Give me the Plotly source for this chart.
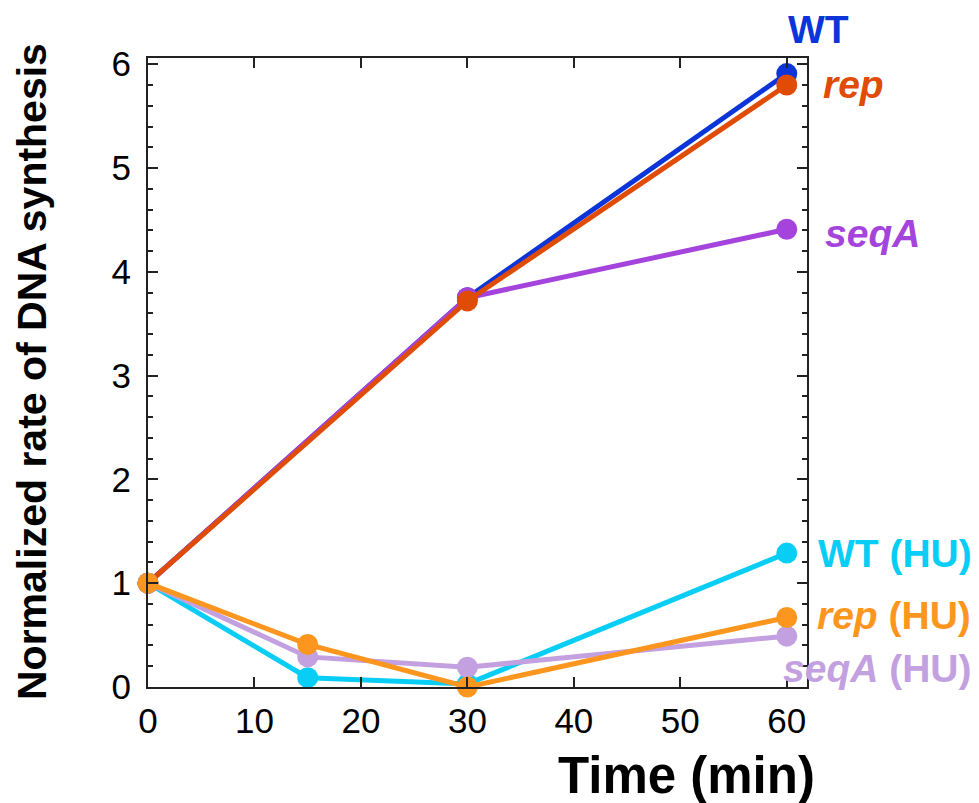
import plotly.graph_objects as go

time_full = [0, 30, 60]
time_hu = [0, 15, 30, 60]

wt = [1.0, 3.75, 5.91]
seqa = [1.0, 3.75, 4.41]
rep = [1.0, 3.72, 5.80]

seqa_hu = [1.0, 0.29, 0.19, 0.49]
wt_hu = [1.0, 0.09, 0.03, 1.29]
rep_hu = [1.0, 0.41, 0.0, 0.67]

series = [
    ("WT", time_full, wt, "#0b35d9"),
    ("seqA", time_full, seqa, "#a444dc"),
    ("rep", time_full, rep, "#e04b05"),
    ("WT (HU)", time_hu, wt_hu, "#08cdf5"),
    ("seqA (HU)", time_hu, seqa_hu, "#c3a0e0"),
    ("rep (HU)", time_hu, rep_hu, "#fd961e"),
]

W, H = 979, 803
L, R, T, B = 148, 172, 58, 116
PW, PH = W - L - R, H - T - B


def px(xp):
    return (xp - L) / PW


def py(yp):
    return (H - B - yp) / PH


fig = go.Figure()
for name, xs, ys, col in series:
    fig.add_trace(go.Scatter(
        x=xs, y=ys, mode="lines+markers", name=name,
        line=dict(color=col, width=5),
        marker=dict(color=col, size=21),
        cliponaxis=False, showlegend=False, hoverinfo="skip",
    ))

FONT = "Liberation Sans, Arial, Helvetica, sans-serif"

# series labels (positions in page pixels)
labels = [
    ("<b>WT</b>", 818, 29, "center", "#0b35d9"),
    ("<b><i>rep</i></b>", 821, 85, "left", "#e04b05"),
    ("<b><i>seqA</i></b>", 823, 233, "left", "#a444dc"),
    ("<b>WT (HU)</b>", 816, 553, "left", "#08cdf5"),
    ("<b><i>rep</i> (HU)</b>", 815, 615, "left", "#fd961e"),
    ("<b><i>seqA</i> (HU)</b>", 781, 668, "left", "#c3a0e0"),
]
for txt, xp, yp, xa, col in labels:
    fig.add_annotation(x=px(xp), y=py(yp), xref="paper", yref="paper", text=txt, showarrow=False,
                       xanchor=xa, yanchor="middle",
                       font=dict(family=FONT, size=39, color=col))

fig.add_annotation(x=px(32), y=py(372), xref="paper", yref="paper",
                   text="<b>Normalized rate of DNA synthesis</b>",
                   showarrow=False, textangle=-90, xanchor="center", yanchor="middle",
                   font=dict(family=FONT, size=41, color="black"))

fig.add_annotation(x=px(686), y=py(775), xref="paper", yref="paper",
                   text="<b>Time (min)</b>", showarrow=False, xanchor="center", yanchor="middle",
                   font=dict(family=FONT, size=51, color="black"))

axis_common = dict(showline=True, linecolor="#222", linewidth=2, mirror="ticks",
                   ticks="inside", tickcolor="#222", tickwidth=2, ticklen=10,
                   showgrid=False, zeroline=False,
                   tickfont=dict(family=FONT, size=35, color="black"))

fig.update_layout(
    width=W, height=H,
    margin=dict(l=L, r=R, t=T, b=B),
    paper_bgcolor="white", plot_bgcolor="white",
    xaxis=dict(range=[0, 61.9], tickvals=[0, 10, 20, 30, 40, 50, 60], ticklabelstandoff=2, **axis_common),
    yaxis=dict(range=[0, 6.06], tickvals=[0, 1, 2, 3, 4, 5, 6], ticklabelstandoff=8,
               minor=dict(dtick=0.2, ticks="inside", ticklen=5, tickwidth=2, tickcolor="#222", showgrid=False),
               **axis_common),
)

fig.write_html("out.html", config={"displayModeBar": False},
               post_script="document.body.style.margin='0';document.body.style.overflow='hidden';")
